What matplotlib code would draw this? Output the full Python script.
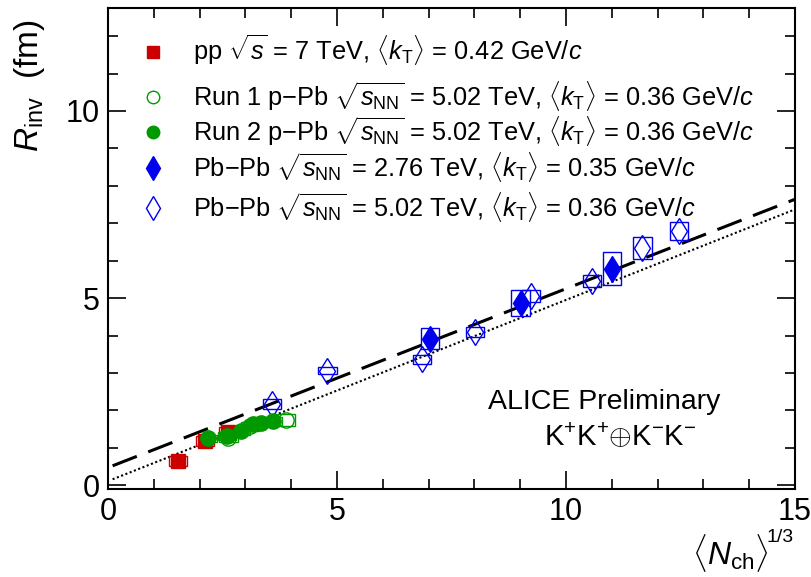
import matplotlib
matplotlib.use("Agg")
import matplotlib.pyplot as plt
from matplotlib.patches import Rectangle
from matplotlib.ticker import MultipleLocator
import numpy as np

plt.rcParams['font.family'] = ['Liberation Sans', 'DejaVu Sans']
plt.rcParams['mathtext.fontset'] = 'custom'
plt.rcParams['mathtext.rm'] = 'Liberation Sans'
plt.rcParams['mathtext.it'] = 'Liberation Sans:italic'
plt.rcParams['mathtext.bf'] = 'Liberation Sans:bold'

# pp 7 TeV
pp_x = [1.53, 2.12, 2.62]
pp_y = [0.64, 1.18, 1.42]
pp_sys = [0.13, 0.13, 0.13]

# p-Pb Run 1
ppb1_x = [2.63, 3.10, 3.89]
ppb1_y = [1.27, 1.57, 1.74]
ppb1_sys = [0.12, 0.12, 0.16]

# p-Pb Run 2
ppb2_x = [2.19, 2.60, 2.90, 3.16, 3.34, 3.60]
ppb2_y = [1.25, 1.32, 1.45, 1.63, 1.67, 1.72]
ppb2_sys = [0.10, 0.10, 0.10, 0.10, 0.10, 0.10]

# Pb-Pb 2.76 TeV
pbpb276_x = [7.03, 9.01, 11.01]
pbpb276_y = [3.92, 4.88, 5.79]
pbpb276_sys = [0.27, 0.35, 0.45]

# Pb-Pb 5.02 TeV
pbpb502_x = [3.58, 4.79, 6.86, 8.01, 9.24, 10.57, 11.67, 12.47]
pbpb502_y = [2.18, 3.06, 3.37, 4.10, 5.06, 5.46, 6.33, 6.80]
pbpb502_sys = [0.13, 0.09, 0.12, 0.13, 0.16, 0.17, 0.29, 0.24]

# linear fits
fit_x = [0.1, 15.0]
fit_dashed_y = [0.52, 7.64]
fit_dotted_y = [0.16, 7.37]

red = '#cc0000'
green = '#009900'
blue = '#0000ee'

fig = plt.figure(figsize=(8.11, 5.77), dpi=100)
ax = fig.add_axes([0.1332, 0.1525, 0.847, 0.8336])


def sys_boxes(xs, ys, dys, color, dx=0.2):
    for x, y, dy in zip(xs, ys, dys):
        ax.add_patch(Rectangle((x - dx, y - dy), 2 * dx, 2 * dy, fill=False,
                               edgecolor=color, linewidth=1.0, zorder=3))


sys_boxes(pp_x, pp_y, pp_sys, red)
sys_boxes(ppb1_x, ppb1_y, ppb1_sys, green)
sys_boxes(ppb2_x, ppb2_y, ppb2_sys, green)
sys_boxes(pbpb276_x, pbpb276_y, pbpb276_sys, blue)
sys_boxes(pbpb502_x, pbpb502_y, pbpb502_sys, blue)

ax.plot(fit_x, fit_dashed_y, color='black', lw=2.2, ls=(0, (8.5, 4)), zorder=2)
ax.plot(fit_x, fit_dotted_y, color='black', lw=1.5, ls=(0, (1, 1.2)), zorder=2)

ax.plot(pp_x, pp_y, 's', color=red, ms=10, ls='none', zorder=4)
ax.plot(ppb1_x, ppb1_y, 'o', mfc='none', mec=green, mew=1.0, ms=11, ls='none', zorder=4)
ax.plot(ppb2_x, ppb2_y, 'o', color=green, ms=11, ls='none', zorder=5)
ax.plot(pbpb276_x, pbpb276_y, 'd', color=blue, ms=13, ls='none', zorder=4)
ax.plot(pbpb502_x, pbpb502_y, 'd', mfc='none', mec=blue, mew=1.0, ms=13, ls='none', zorder=4)

ax.set_xlim(0, 15)
ax.set_ylim(-0.1, 12.75)
ax.xaxis.set_major_locator(MultipleLocator(5))
ax.xaxis.set_minor_locator(MultipleLocator(1))
ax.yaxis.set_major_locator(MultipleLocator(5))
ax.yaxis.set_minor_locator(MultipleLocator(1))
ax.tick_params(which='both', direction='in', top=True, right=True,
               labelsize=22, width=1.2, pad=6)
ax.tick_params(which='major', length=13)
ax.tick_params(which='minor', length=7)
for s in ax.spines.values():
    s.set_linewidth(1.5)

fig.text(0.036, 0.967, r'$R_{\mathrm{inv}}$  (fm)', rotation=90, fontsize=24,
         ha='center', va='top')
fig.text(0.948, 0.005, r'$\langle N_{\mathrm{ch}}\rangle$', fontsize=23,
         ha='right', va='bottom')
fig.text(0.945, 0.054, '1/3', fontsize=14, ha='left', va='bottom')

ax.text(0.723, 0.18, 'ALICE Preliminary', transform=ax.transAxes,
        fontsize=20.5, ha='center', va='center')
ax.text(0.745, 0.107, r'K$^{+}$K$^{+}$$\oplus$K$^{-}$K$^{-}$', transform=ax.transAxes,
        fontsize=21, ha='center', va='center')

# legend, one row at a time
kt = r', $\langle k_{\mathrm{T}}\rangle$ = '
labels = [
    r'pp $\sqrt{s}$ = 7 TeV' + kt + r'0.42 GeV/$c$',
    r'Run 1 p$-$Pb $\sqrt{s_{\mathrm{NN}}}$ = 5.02 TeV' + kt + r'0.36 GeV/$c$',
    r'Run 2 p$-$Pb $\sqrt{s_{\mathrm{NN}}}$ = 5.02 TeV' + kt + r'0.36 GeV/$c$',
    r'Pb$-$Pb $\sqrt{s_{\mathrm{NN}}}$ = 2.76 TeV' + kt + r'0.35 GeV/$c$',
    r'Pb$-$Pb $\sqrt{s_{\mathrm{NN}}}$ = 5.02 TeV' + kt + r'0.36 GeV/$c$',
]
leg_styles = [
    dict(marker='s', color=red, ms=9),
    dict(marker='o', mfc='none', mec=green, ms=9),
    dict(marker='o', color=green, ms=9),
    dict(marker='d', color=blue, ms=12),
    dict(marker='d', mfc='none', mec=blue, ms=12),
]
leg_rows = [0.908, 0.815, 0.742, 0.667, 0.584]
for lab, st, yr in zip(labels, leg_styles, leg_rows):
    ax.plot([0.0655], [yr], ls='none', transform=ax.transAxes, **st)
    ax.text(0.1237, yr - 0.017, lab, transform=ax.transAxes, fontsize=18.3,
            ha='left', va='baseline')

fig.savefig('out.png', dpi=100)
